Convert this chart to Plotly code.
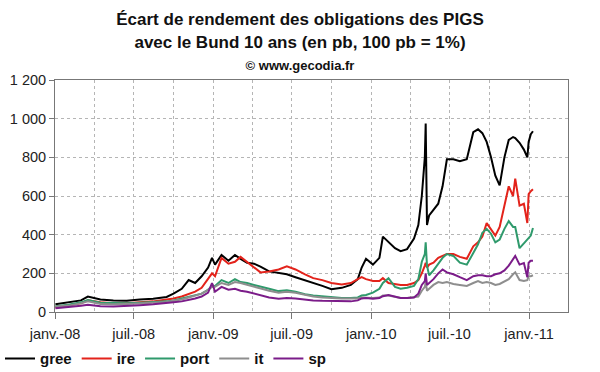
import plotly.graph_objects as go

dates = [
    "2008-01-02", "2008-02-01", "2008-03-01", "2008-03-17", "2008-04-15", "2008-05-15",
    "2008-06-15", "2008-07-15", "2008-08-15", "2008-09-15", "2008-10-01", "2008-10-20",
    "2008-11-05", "2008-11-20", "2008-12-05", "2008-12-20", "2008-12-29",
    "2009-01-05", "2009-01-20", "2009-02-05", "2009-02-20", "2009-03-05", "2009-03-20",
    "2009-04-05", "2009-04-20", "2009-05-10", "2009-06-01", "2009-06-20", "2009-07-10",
    "2009-08-01", "2009-08-20", "2009-09-10", "2009-10-01", "2009-10-25", "2009-11-15",
    "2009-12-01", "2009-12-10", "2009-12-20",
    "2010-01-05", "2010-01-20", "2010-01-28", "2010-02-10", "2010-02-25", "2010-03-10",
    "2010-03-25", "2010-04-10", "2010-04-20", "2010-04-28", "2010-05-05", "2010-05-07",
    "2010-05-10", "2010-05-15", "2010-05-25", "2010-06-05", "2010-06-15", "2010-06-25",
    "2010-07-10", "2010-07-25", "2010-08-10", "2010-08-25", "2010-09-05", "2010-09-15",
    "2010-09-25", "2010-10-05", "2010-10-15", "2010-10-25", "2010-11-05", "2010-11-15",
    "2010-11-25", "2010-11-30", "2010-12-10", "2010-12-20", "2010-12-28", "2010-12-31",
    "2011-01-05", "2011-01-10",
]

gree = [40, 50, 60, 80, 65, 60, 58, 65, 68, 78, 95, 120, 165, 150, 185, 230, 280,
        245, 295, 265, 295, 275, 255, 250, 235, 210, 200, 195, 180, 165, 150, 135, 118, 125, 140, 170, 230, 275,
        245, 280, 390, 360, 330, 315, 325, 380, 450, 600, 800, 975, 450, 500, 530, 560, 650, 790,
        790, 780, 790, 930, 945, 925, 880, 800, 705, 655, 800, 890, 905, 900, 875, 840, 800, 880,
        920, 935]
ire = [25, 35, 45, 60, 50, 45, 45, 50, 55, 65, 70, 80, 95, 105, 125, 175, 200,
       185, 280, 250, 260, 285, 260, 230, 205, 210, 220, 236, 220, 195, 175, 165, 150, 142, 150, 170, 180, 170,
       160, 160, 175, 150, 145, 140, 140, 150, 165, 200, 240, 255, 230, 245, 255, 280, 290, 300,
       300, 285, 275, 340, 360, 390, 460, 430, 395, 440, 550, 650, 600, 690, 550, 560, 460, 610,
       625, 635]
port = [30, 38, 50, 62, 48, 45, 45, 48, 50, 55, 60, 70, 80, 85, 95, 115, 135,
        135, 165, 150, 170, 155, 150, 140, 130, 120, 108, 112, 105, 92, 85, 80, 76, 73, 72, 75, 85, 88,
        100, 120, 150, 175, 130, 120, 125, 135, 170, 260, 300, 360, 240, 190, 215, 250, 280, 300,
        290, 255, 245, 305, 350, 410, 430, 405, 360, 375, 430, 470, 440, 440, 330, 355, 375, 385,
        395, 435]
it = [28, 33, 45, 55, 42, 40, 42, 45, 48, 52, 58, 65, 75, 85, 95, 115, 130,
      130, 150, 140, 155, 150, 140, 130, 120, 110, 100, 105, 100, 88, 80, 75, 72, 70, 70, 70, 75, 74,
      72, 75, 85, 85, 80, 73, 72, 75, 80, 110, 130, 155, 110, 120, 140, 155, 150, 155,
      145, 140, 135, 150, 160, 150, 155, 150, 140, 145, 160, 170, 195, 205, 165, 160, 165, 185,
      185, 190]
sp = [20, 25, 32, 38, 30, 28, 30, 35, 40, 45, 50, 55, 62, 70, 80, 100, 150,
      105, 130, 115, 120, 110, 105, 95, 88, 75, 68, 72, 70, 63, 60, 58, 57, 55, 55, 60, 70, 72,
      68, 72, 82, 88, 80, 72, 72, 75, 95, 140, 160, 200, 140, 150, 170, 200, 220, 205,
      195, 180, 165, 185, 190, 190, 185, 185, 195, 200, 215, 240, 270, 290, 245, 253, 180, 255,
      265, 265]

series_names = ["gree", "ire", "port", "it", "sp"]
series_values = [gree, ire, port, it, sp]
series_colors = ["#000000", "#e3231b", "#2f9a6c", "#8e8e8e", "#7b1c89"]

tick_dates = ["2008-01-01", "2008-07-01", "2009-01-01", "2009-07-01",
              "2010-01-01", "2010-07-01", "2011-01-01"]
tick_labels = ["janv.-08", "juil.-08", "janv.-09", "juil.-09",
               "janv.-10", "juil.-10", "janv.-11"]

FONT = "Liberation Sans, Arial, sans-serif"

fig = go.Figure()
for name, vals, col in zip(series_names, series_values, series_colors):
    fig.add_trace(go.Scatter(x=dates, y=vals, name=name, mode="lines",
                             line=dict(color=col, width=2)))

fig.update_layout(
    width=600, height=372,
    margin=dict(l=55, r=32, t=80, b=60, autoexpand=False),
    paper_bgcolor="white", plot_bgcolor="white",
    separators=", ",
    font=dict(family=FONT, size=14, color="#222"),
    title=dict(
        text="Écart de rendement des obligations des PIGS<br>avec le Bund 10 ans (en pb, 100 pb = 1%)"
             "<br><span style='font-size:13px'>© www.gecodia.fr</span>",
        x=0.5, xanchor="center", xref="container",
        y=0.9315, yanchor="top", yref="container",
        font=dict(family=FONT, size=17, color="#111", weight="bold"),
    ),
    showlegend=True,
    legend=dict(orientation="h", xref="container", yref="container",
                x=0.0, xanchor="left", y=0.08, yanchor="top",
                font=dict(family=FONT, size=15, color="#111", weight="bold"),
                itemwidth=30, tracegroupgap=0, bgcolor="rgba(0,0,0,0)"),
    xaxis=dict(
        type="date",
        range=["2008-01-01", "2011-04-01"],
        tickvals=tick_dates, ticktext=tick_labels,
        ticks="outside", ticklen=6, tickcolor="#777",
        ticklabelstandoff=3,
        showline=True, linecolor="#777", linewidth=1, mirror=True,
        showgrid=True, gridcolor="#b5b5b5", griddash="dot", gridwidth=1,
        minor=dict(dtick="M3", tick0="2008-01-01", showgrid=True,
                   gridcolor="#b5b5b5", griddash="dot", gridwidth=1, ticks=""),
        tickfont=dict(family=FONT, size=14.5, color="#222"),
        zeroline=False,
    ),
    yaxis=dict(
        range=[0, 1200], dtick=200, tickformat=",d",
        ticks="outside", ticklen=5, tickcolor="#777",
        showline=True, linecolor="#777", linewidth=1, mirror=True,
        showgrid=True, gridcolor="#b5b5b5", griddash="dot", gridwidth=1,
        tickfont=dict(family=FONT, size=14.5, color="#222"),
        zeroline=False,
    ),
)

fig.write_html("out.html",
               config={"displayModeBar": False},
               post_script="document.body.style.margin='0';document.body.style.padding='0';")
